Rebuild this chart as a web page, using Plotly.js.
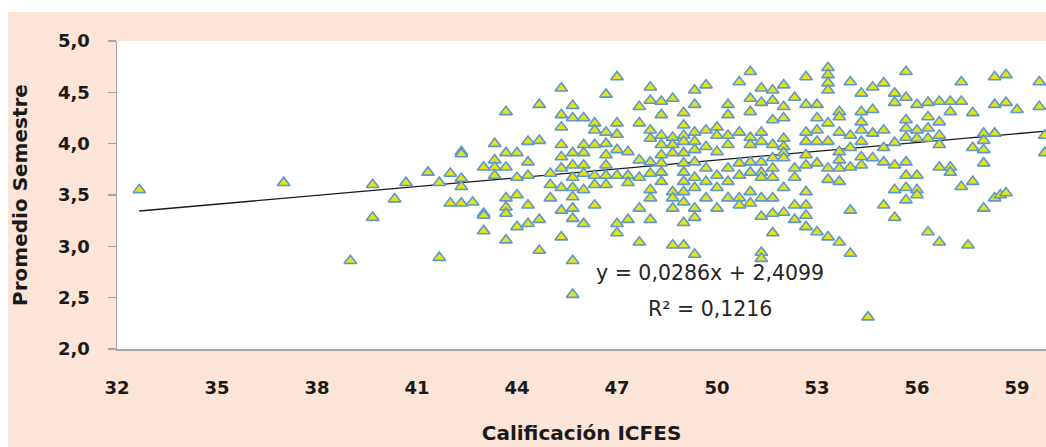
<!DOCTYPE html>
<html>
<head>
<meta charset="utf-8">
<script src="https://cdn.plot.ly/plotly-3.0.1.min.js"></script>
<style>
  html, body { margin: 0; padding: 0; background: #ffffff; }
  #chart { position: absolute; left: 8px; top: 12px; width: 1038px; height: 435px; }
</style>
</head>
<body>
<div id="chart"></div>
<script>
// ICFES score columns (x) and the semester averages read at each column (y)
const icfesScores = [
  32.67, 37, 39, 39.67, 40.33, 40.67, 41.33, 41.67, 42, 42.33, 42.67, 43, 43.33, 43.67, 44, 44.33,
  44.67, 45, 45.33, 45.67, 46, 46.33, 46.67, 47, 47.33, 47.67, 48, 48.33, 48.67, 49, 49.33, 49.67,
  50, 50.33, 50.67, 51, 51.33, 51.67, 52, 52.33, 52.67, 53, 53.33, 53.67, 54, 54.33, 54.53, 54.67,
  55, 55.33, 55.67, 56, 56.33, 56.67, 57, 57.33, 57.53, 57.67, 58, 58.33, 58.5, 58.67, 59, 59.67, 59.83
];
const semesterAverages = [
  [3.55],
  [3.62],
  [2.86],
  [3.60, 3.28],
  [3.46],
  [3.62],
  [3.72],
  [3.62, 2.89],
  [3.71, 3.42],
  [3.92, 3.90, 3.66, 3.58, 3.42],
  [3.43],
  [3.77, 3.32, 3.30, 3.15],
  [4.00, 3.84, 3.77, 3.69],
  [4.31, 3.91, 3.77, 3.47, 3.38, 3.32, 3.06],
  [3.91, 3.67, 3.50, 3.19],
  [4.02, 3.82, 3.69, 3.40, 3.22],
  [4.38, 4.03, 3.26, 2.96],
  [3.71, 3.60, 3.47],
  [4.54, 4.28, 4.16, 3.99, 3.87, 3.76, 3.57, 3.35, 3.09],
  [4.37, 4.25, 3.91, 3.79, 3.67, 3.57, 3.48, 3.37, 3.27, 2.86, 2.53],
  [4.25, 3.99, 3.91, 3.79, 3.71, 3.55, 3.22],
  [4.20, 4.13, 3.99, 3.69, 3.60, 3.40],
  [4.48, 4.11, 4.00, 3.89, 3.79, 3.69, 3.60],
  [4.65, 4.20, 4.09, 3.94, 3.69, 3.22, 3.13],
  [3.92, 3.69, 3.62, 3.26],
  [4.36, 4.20, 3.84, 3.67, 3.37, 3.04],
  [4.55, 4.42, 4.13, 4.05, 3.82, 3.71, 3.55, 3.47, 3.26],
  [4.41, 4.28, 4.08, 3.99, 3.89, 3.81, 3.72, 3.63],
  [4.44, 4.06, 3.99, 3.91, 3.53, 3.47, 3.37, 3.01],
  [4.30, 4.18, 4.08, 4.02, 3.91, 3.81, 3.72, 3.63, 3.53, 3.43, 3.23, 3.01],
  [4.52, 4.38, 4.11, 4.02, 3.94, 3.82, 3.67, 3.57, 3.37, 3.28, 2.92],
  [4.57, 4.13, 3.97, 3.76, 3.63, 3.47],
  [4.16, 4.08, 3.92, 3.69, 3.57, 3.37],
  [4.38, 4.28, 4.08, 3.99, 3.76, 3.63, 3.47],
  [4.60, 4.11, 3.81, 3.69, 3.47, 3.40],
  [4.70, 4.44, 4.31, 4.06, 3.99, 3.82, 3.72, 3.53, 3.42],
  [4.54, 4.40, 4.11, 4.02, 3.82, 3.72, 3.67, 3.47, 3.29, 2.94, 2.88],
  [4.52, 4.42, 4.23, 3.99, 3.86, 3.76, 3.67, 3.47, 3.32, 3.13],
  [4.57, 4.36, 4.25, 4.05, 3.97, 3.91, 3.86, 3.57, 3.33],
  [4.45, 3.76, 3.67, 3.40, 3.26],
  [4.65, 4.38, 4.11, 4.02, 3.89, 3.79, 3.53, 3.40, 3.30, 3.19],
  [4.38, 4.25, 4.13, 4.02, 3.81, 3.14],
  [4.74, 4.67, 4.59, 4.52, 4.20, 4.02, 3.76, 3.65, 3.09],
  [4.31, 4.26, 4.11, 3.92, 3.84, 3.76, 3.63, 3.04],
  [4.60, 4.08, 3.96, 3.77, 3.35, 2.93],
  [4.49, 4.31, 4.21, 4.13, 4.02, 3.87, 3.79],
  [2.31],
  [4.55, 4.33, 4.10, 3.86],
  [4.59, 4.13, 3.96, 3.82, 3.40],
  [4.49, 4.40, 4.01, 3.79, 3.55, 3.28],
  [4.70, 4.45, 4.23, 4.15, 4.06, 3.82, 3.69, 3.57, 3.45],
  [4.38, 4.13, 4.05, 3.69, 3.55, 3.50],
  [4.40, 4.26, 4.15, 4.05, 3.14],
  [4.41, 4.21, 4.08, 3.99, 3.77, 3.04],
  [4.41, 4.31, 3.77, 3.72],
  [4.60, 4.41, 3.58],
  [3.01],
  [4.30, 3.96, 3.63],
  [4.10, 4.03, 3.94, 3.81, 3.37],
  [4.65, 4.38, 4.10, 3.47],
  [3.50],
  [4.67, 4.40, 3.52],
  [4.33],
  [4.60, 4.36],
  [4.08, 3.91]
];
// Linear trendline endpoints (y = 0,0286x + 2,4099)
const trendX = [32.67, 60];
const trendY = [3.344, 4.126];
const xTicks = [32, 35, 38, 41, 44, 47, 50, 53, 56, 59];
const yTicks = [2.0, 2.5, 3.0, 3.5, 4.0, 4.5, 5.0];
const equationText = 'y = 0,0286x + 2,4099';
const r2Text = 'R² = 0,1216';

const xs = [], ys = [];
icfesScores.forEach((x, i) => {
  semesterAverages[i].forEach(y => { xs.push(x); ys.push(y); });
});

const scatter = {
  x: xs, y: ys,
  type: 'scatter', mode: 'markers',
  marker: { symbol: 'triangle-up', size: 11, color: '#E4E40F',
            line: { color: '#5E97CF', width: 1.6 } },
  hoverinfo: 'x+y', showlegend: false
};
const trend = {
  x: trendX, y: trendY, type: 'scatter', mode: 'lines',
  line: { color: '#1a1a1a', width: 1.3 }, hoverinfo: 'skip', showlegend: false
};

const FAM = '"DejaVu Sans", Verdana, sans-serif';
const tickFont = { family: FAM, size: 18, color: '#1a1a1a', weight: 'bold' };
const titleFont = { family: FAM, size: 20, color: '#1a1a1a', weight: 'bold' };
const layout = {
  width: 1038, height: 435,
  margin: { l: 109, r: 0, t: 29, b: 98 },
  paper_bgcolor: '#FCE4D6',
  plot_bgcolor: '#FFFFFF',
  separators: ',.',
  font: { family: FAM, color: '#1a1a1a' },
  xaxis: {
    range: [32, 59.87], tickmode: 'array', tickvals: xTicks,
    ticks: '', showgrid: false, zeroline: false,
    showline: true, linecolor: '#A6A6A6', linewidth: 1.5,
    tickfont: tickFont, ticklabelstandoff: 22,
    title: { text: 'Calificación ICFES', standoff: 29, font: titleFont }
  },
  yaxis: {
    range: [2, 5], tickmode: 'array', tickvals: yTicks, tickformat: '.1f',
    ticks: 'outside', ticklen: 8, tickcolor: '#A6A6A6', tickwidth: 1.2,
    showgrid: false, zeroline: false,
    showline: true, linecolor: '#A6A6A6', linewidth: 1.5,
    tickfont: tickFont, ticklabelstandoff: 14,
    title: { text: 'Promedio Semestre', standoff: 26, font: titleFont }
  },
  annotations: [
    { x: 49.79, y: 2.74, xref: 'x', yref: 'y', text: equationText, showarrow: false,
      font: { family: FAM, size: 20.5, color: '#262626' } },
    { x: 49.79, y: 2.39, xref: 'x', yref: 'y', text: r2Text, showarrow: false,
      font: { family: FAM, size: 20.5, color: '#262626' } }
  ]
};

Plotly.newPlot('chart', [trend, scatter], layout, { displayModeBar: false, staticPlot: true });
</script>
</body>
</html>
